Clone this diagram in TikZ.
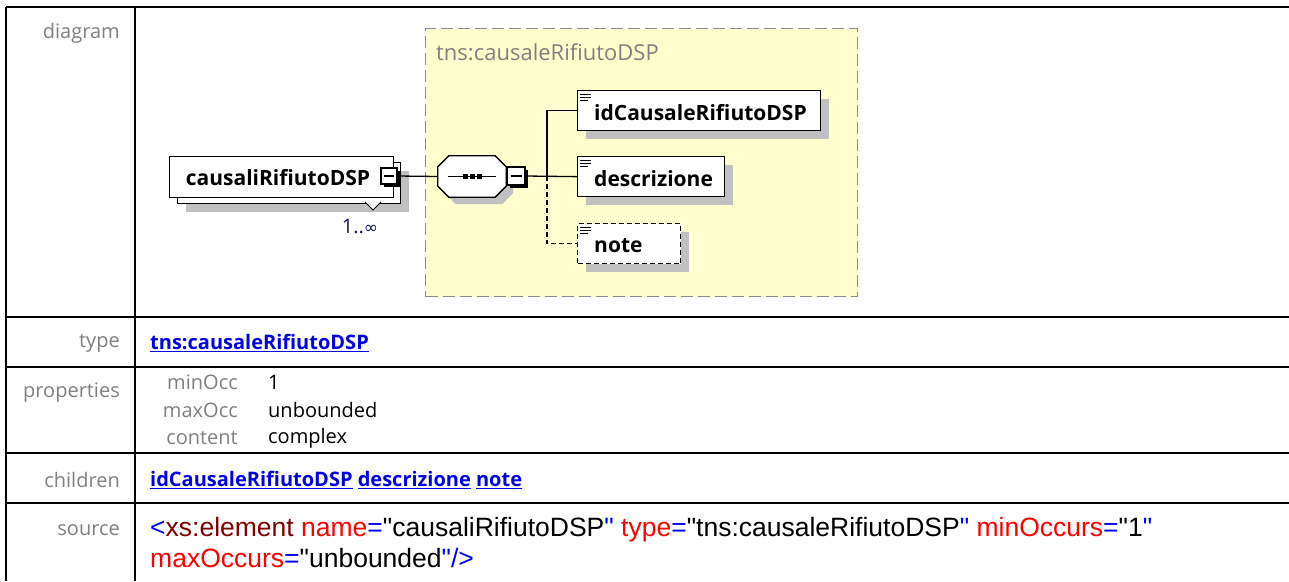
\documentclass[tikz,border=0pt]{standalone}
\usepackage{fontspec}
\setmainfont{Open Sans}
\newfontfamily\arial{Liberation Sans}
\newfontfamily\dv{DejaVu Sans}
\usetikzlibrary{shadows,calc}
\definecolor{lbl}{RGB}{128,128,128}
\definecolor{lnk}{RGB}{0,0,230}
\definecolor{yel}{RGB}{255,255,206}
\definecolor{shd}{RGB}{192,192,192}
\definecolor{xred}{RGB}{255,0,0}
\definecolor{xdark}{RGB}{128,0,0}
\definecolor{xblue}{RGB}{0,0,255}
\definecolor{ttl}{RGB}{128,128,128}
\tikzset{
  tbl/.style={line width=2.5pt},
  lab/.style={anchor=east,text=lbl,inner sep=0pt,font=\fontsize{20}{24}\selectfont},
  val/.style={anchor=west,inner sep=0pt,font=\fontsize{20}{24}\selectfont},
  lnkstyle/.style={anchor=west,inner sep=0pt,text=lnk,font=\bfseries\fontsize{20}{24}\selectfont},
  src/.style={anchor=west,inner sep=0pt,font=\arial\fontsize{26.5}{30}\selectfont},
  elem/.style={draw,line width=1.3pt,fill=white,anchor=north west,inner sep=0pt,
    drop shadow={shadow xshift=8pt,shadow yshift=-8pt,opacity=1,fill=shd}},
  etext/.style={anchor=west,inner sep=0pt,font=\bfseries\fontsize{21}{25}\selectfont},
  minusbox/.style={draw,line width=1.2pt,fill=white,minimum width=16pt,minimum height=16pt,inner sep=0pt,
    drop shadow={shadow xshift=2.5pt,shadow yshift=-2.5pt,opacity=1,fill=black}},
  conn/.style={line width=1.3pt},
}
\newcommand{\lk}[1]{\underline{#1}}
\begin{document}
\begin{tikzpicture}[x=1pt,y=-1pt]
\useasboundingbox (0,0) rectangle (1289,581);
% table
\draw[tbl] (6,7) -- (1289,7);
\draw[tbl] (6,7) -- (6,581);
\draw[tbl] (135,7) -- (135,581);
\foreach \yy in {317,367,453,503} \draw[tbl] (6,\yy) -- (1289,\yy);
% labels
\node[lab] (ldiag) at (120,33) {diagram};
\node[lab] (ltype) at (120,343) {type};
\node[lab] (lprop) at (120,393) {properties};
\node[lab] (lchild) at (120,480) {children};
\node[lab] (lsrc) at (120,530) {source};
% type
\node[lnkstyle] (vtype) at (150,343) {\lk{tns:causaleRifiutoDSP}};
% properties
\node[lab] (pmin) at (238,382) {minOcc};
\node[lab] (pmax) at (238,410) {maxOcc};
\node[lab] (pcont) at (238,438) {content};
\node[val] (vmin) at (268,382) {1};
\node[val] (vmax) at (268,410) {unbounded};
\node[val] (vcont) at (268,438) {complex};
% children
\node[lnkstyle] (vchild) at (150,480) {\lk{idCausaleRifiutoDSP} \lk{descrizione} \lk{note}};
% source
\node[src] (src1) at (150,530) {\textcolor{xblue}{<}\textcolor{xdark}{xs:element} \textcolor{xred}{name}\textcolor{xblue}{=}"causaliRifiutoDSP\textcolor{xblue}{"} \textcolor{xred}{type}\textcolor{xblue}{=}"tns:causaleRifiutoDSP\textcolor{xblue}{"} \textcolor{xred}{minOccurs}\textcolor{xblue}{=}"1\textcolor{xblue}{"}};
\node[src] (src2) at (150,558) {\textcolor{xred}{maxOccurs}\textcolor{xblue}{=}"unbounded\textcolor{xblue}{"/>}};
% type box
\node[draw=gray!90,fill=yel,line width=1.3pt,dash pattern=on 12pt off 5pt,anchor=north west,
  minimum width=432pt,minimum height=268pt,inner sep=0pt] (tbox) at (425,28) {};
\node[anchor=west,inner sep=0pt,text=ttl,font=\fontsize{22}{26}\selectfont] (ttitle) at (436,52) {tns:causaleRifiutoDSP};
% main element
\node[elem,minimum width=223pt,minimum height=41pt] (mback) at (177,162) {};
\node[draw,line width=1.3pt,fill=white,anchor=north west,inner sep=0pt,minimum width=224pt,minimum height=41pt] (main) at (169,156) {};
\node[etext,anchor=center] (maintxt) at (278,178) {causaliRifiutoDSP};
\node[minusbox] (mminus) at (389,176) {};
\draw[line width=1.3pt] ($(mminus.center)+(-5,0)$) -- ($(mminus.center)+(5,0)$);
\draw[line width=1pt,fill=white] (365,202) -- (373,210) -- (381,202);
\node[inner sep=0pt,font=\fontsize{20}{24}\selectfont,text={rgb,255:red,20;green,20;blue,90}] (occ) at (360,226) {1..{\dv\fontsize{17}{20}\selectfont ∞}};
% sequence (octagon)
\node[minimum width=68pt,minimum height=41pt,inner sep=0pt] (seq) at (472,176.5) {};
\fill[shd] ($(seq.north west)+(7,18)$) -- ($(seq.north west)+(18,7)$) -- ($(seq.north east)+(-4,7)$) -- ($(seq.north east)+(7,18)$)
  -- ($(seq.south east)+(7,-4)$) -- ($(seq.south east)+(-4,7)$) -- ($(seq.south west)+(18,7)$) -- ($(seq.south west)+(7,-4)$) -- cycle;
\draw[line width=1.3pt,fill=white] ($(seq.north west)+(0,11)$) -- ($(seq.north west)+(11,0)$) -- ($(seq.north east)+(-11,0)$) -- ($(seq.north east)+(0,11)$)
  -- ($(seq.south east)+(0,-11)$) -- ($(seq.south east)+(-11,0)$) -- ($(seq.south west)+(11,0)$) -- ($(seq.south west)+(0,-11)$) -- cycle;
\draw[line width=1.3pt] ($(seq.west)+(10,0)$) -- ($(seq.east)+(-10,0)$);
\foreach \dx in {-7,0,7} \fill ($(seq.center)+(\dx-2.5,-2.5)$) rectangle +(5,5);
\node[minusbox,minimum width=18pt,minimum height=18pt] (sminus) at (516,176) {};
\draw[line width=1.3pt] ($(sminus.center)+(-5.5,0)$) -- ($(sminus.center)+(5.5,0)$);
\draw[conn] (mminus.east) -- (seq.west);
% children
\node[elem,minimum width=243pt,minimum height=40pt] (id) at (577,90) {};
\node[etext] (idtxt) at ($(id.west)+(17,2)$) {idCausaleRifiutoDSP};
\node[elem,minimum width=147pt,minimum height=40pt] (desc) at (577,156) {};
\node[etext] (desctxt) at ($(desc.west)+(17,2)$) {descrizione};
\node[elem,dash pattern=on 5pt off 3pt,minimum width=103pt,minimum height=40pt] (note) at (577,223) {};
\node[etext] (notetxt) at ($(note.west)+(17,2)$) {note};
\foreach \n in {id,desc,note}{
  \draw[line width=1pt] ($(\n.north west)+(3,4)$) -- +(11,0);
  \draw[line width=1pt] ($(\n.north west)+(3,7)$) -- +(11,0);
  \draw[line width=1pt] ($(\n.north west)+(3,10)$) -- +(8,0);
}
\coordinate (br) at (547,176);
\draw[conn] (sminus.east) -- (desc.west);
\draw[conn] (br) |- (id.west);
\draw[conn,dash pattern=on 5pt off 3pt] (br) |- (note.west);
\end{tikzpicture}
\end{document}
